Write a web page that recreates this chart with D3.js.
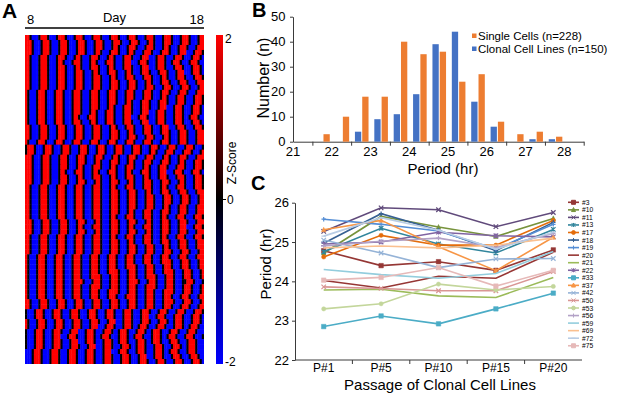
<!DOCTYPE html>
<html>
<head>
<meta charset="utf-8">
<script src="https://cdn.jsdelivr.net/npm/d3@7"></script>
<style>
  body { margin: 0; background: #fff; }
  svg { display: block; font-family: Arial, "Liberation Sans", sans-serif; }
</style>
</head>
<body>
<div id="chart"></div>
<script>
// ---------- panel A data: one string per cell, one letter per time point (day 8..18, every 3 h)
// R = +2, k = 0, B = -2 (spaces only group the letters)
const zLevels = { R: 2, r: 1.2, k: 0, b: -1.2, B: -2 };
const heatRows = [
  "RRkBBBkR RRkBBBkR RRkBBBkR RRkBBBkR RRkBBBkR RRkBBBkR RRkBBBkR RRkBBBkR RRkBBBkR RRkBBBkR R",
  "R RRkBBBkR RRkBBBkR RRkBBBkR RRkBBBkR RRkBBBkR RRkBBBkR RRkBBBkR RkBBBkRR RkBBBkRR RkBBBkRR",
  "R RRkBBBkR RRkBBBkR RRkBBBkR RRkBBBkR RRkBBBkR RkBBBkRR RkBBBkRR RkBBBkRR kBBBkRRR kBBBkRRR",
  "R RRkBBBkR RRkBBBkR RRkBBBkR RRkBBBkR RkBBBkRR RkBBBkRR kBBBkRRR kBBBkRRR kBBBkRRR BBBkRRRk",
  "RRkBBBkR RRkBBBkR RRkBBBkR RkBBBkRR RkBBBkRR kBBBkRRR kBBBkRRR BBBkRRRk BBBkRRRk BBBkRRRk B",
  "RRkBBBkR RRkBBBkR RkBBBkRR RkBBBkRR kBBBkRRR kBBBkRRR BBBkRRRk BBBkRRRk BBkRRRkB BBkRRRkB B",
  "RRkBBBkR RRkBBBkR RRkBBBkR RkBBBkRR RkBBBkRR kBBBkRRR kBBBkRRR BBBkRRRk BBBkRRRk BBBkRRRk B",
  "RRkBBBkR RRkBBBkR RRkBBBkR RRkBBBkR RkBBBkRR RkBBBkRR kBBBkRRR kBBBkRRR kBBBkRRR BBBkRRRk B",
  "RRkBBBkR RRkBBBkR RRkBBBkR RRkBBBkR RRkBBBkR RkBBBkRR RkBBBkRR RkBBBkRR kBBBkRRR kBBBkRRR k",
  "RRkBBBkR RRkBBBkR RRkBBBkR RRkBBBkR RRkBBBkR RRkBBBkR RRkBBBkR RkBBBkRR RkBBBkRR RkBBBkRR R",
  "RRkBBBkR RRkBBBkR RRkBBBkR RRkBBBkR RRkBBBkR RRkBBBkR RRkBBBkR RRkBBBkR RRkBBBkR RRkBBBkR R",

  "RkBBBkRR RkBBBkRR RkBBBkRR RkBBBkRR RkBBBkRR RkBBBkRR RkBBBkRR RkBBBkRR RkBBBkRR RkBBBkRR R",
  "RkBBBkRR RkBBBkRR RkBBBkRR RkBBBkRR RkBBBkRR RkBBBkRR RkBBBkRR RkBBBkRR kBBBkRRR kBBBkRRR k",
  "RkBBBkRR RkBBBkRR RkBBBkRR RkBBBkRR RkBBBkRR RkBBBkRR kBBBkRRR kBBBkRRR kBBBkRRR kBBBkRRR k",
  "RkBBBkRR RkBBBkRR RkBBBkRR RkBBBkRR RkBBBkRR kBBBkRRR kBBBkRRR kBBBkRRR BBBkRRRk BBBkRRRk B",
  "RkBBBkRR RkBBBkRR RkBBBkRR RkBBBkRR kBBBkRRR kBBBkRRR kBBBkRRR BBBkRRRk BBBkRRRk BBBkRRRk B",
  "RkBBBkRR RkBBBkRR RkBBBkRR kBBBkRRR kBBBkRRR kBBBkRRR BBBkRRRk BBBkRRRk BBBkRRRk BBkRRRkB B",
  "RkBBBkRR RkBBBkRR RkBBBkRR RkBBBkRR kBBBkRRR kBBBkRRR kBBBkRRR BBBkRRRk BBBkRRRk BBBkRRRk B",
  "R RkBBBkRR RkBBBkRR RkBBBkRR RkBBBkRR RkBBBkRR kBBBkRRR kBBBkRRR kBBBkRRR BBBkRRRk BBBkRRRk",
  "R RkBBBkRR RkBBBkRR RkBBBkRR RkBBBkRR RkBBBkRR RkBBBkRR kBBBkRRR kBBBkRRR kBBBkRRR kBBBkRRR",
  "R RkBBBkRR RkBBBkRR RkBBBkRR RkBBBkRR RkBBBkRR RkBBBkRR RkBBBkRR RkBBBkRR kBBBkRRR kBBBkRRR",
  "RkBBBkRR RkBBBkRR RkBBBkRR RkBBBkRR RkBBBkRR RkBBBkRR RkBBBkRR RkBBBkRR RkBBBkRR RkBBBkRR R",

  "k RRRkBBBk RRRkBBBk RRRkBBBk RRRkBBBk RRRkBBBk RRRkBBBk RRRkBBBk RRRkBBBk RRRkBBBk RRRkBBBk",
  "k RRRkBBBk RRRkBBBk RRRkBBBk RRRkBBBk RRRkBBBk RRRkBBBk RRRkBBBk RRkBBBkR RRkBBBkR RRkBBBkR",
  "RRRkBBBk RRRkBBBk RRRkBBBk RRRkBBBk RRRkBBBk RRkBBBkR RRkBBBkR RRkBBBkR RkBBBkRR RkBBBkRR R",
  "RRRkBBBk RRRkBBBk RRRkBBBk RRRkBBBk RRkBBBkR RRkBBBkR RkBBBkRR RkBBBkRR RkBBBkRR kBBBkRRR k",
  "RRRkBBBk RRRkBBBk RRRkBBBk RRkBBBkR RRkBBBkR RkBBBkRR RkBBBkRR kBBBkRRR kBBBkRRR kBBBkRRR k",
  "RRRkBBBk RRRkBBBk RRkBBBkR RRkBBBkR RkBBBkRR RkBBBkRR kBBBkRRR kBBBkRRR BBBkRRRk BBBkRRRk B",
  "RRRkBBBk RRRkBBBk RRRkBBBk RRkBBBkR RRkBBBkR RkBBBkRR RkBBBkRR kBBBkRRR kBBBkRRR kBBBkRRR k",
  "RRRkBBBk RRRkBBBk RRRkBBBk RRRkBBBk RRkBBBkR RRkBBBkR RkBBBkRR RkBBBkRR RkBBBkRR kBBBkRRR k",
  "RRkBBBk RRRkBBBk RRRkBBBk RRRkBBBk RRRkBBBk RRkBBBkR RRkBBBkR RRkBBBkR RkBBBkRR RkBBBkRR R k",
  "RRkBBBk RRRkBBBk RRRkBBBk RRRkBBBk RRRkBBBk RRRkBBBk RRRkBBBk RRkBBBkR RRkBBBkR RRkBBBkR R R",
  "RRkBBBk RRRkBBBk RRRkBBBk RRRkBBBk RRRkBBBk RRRkBBBk RRRkBBBk RRRkBBBk RRRkBBBk RRRkBBBk R R",

  "RRkBBBkR RRkBBBkR RRkBBBkR RRkBBBkR RRkBBBkR RRkBBBkR RRkBBBkR RRkBBBkR RRkBBBkR RRkBBBkR R",
  "RRkBBBkR RRkBBBkR RRkBBBkR RRkBBBkR RRkBBBkR RRkBBBkR RRkBBBkR RRkBBBkR RkBBBkRR RkBBBkRR R",
  "RRkBBBkR RRkBBBkR RRkBBBkR RRkBBBkR RRkBBBkR RRkBBBkR RkBBBkRR RkBBBkRR RkBBBkRR RkBBBkRR R",
  "RRkBBBkR RRkBBBkR RRkBBBkR RRkBBBkR RRkBBBkR RkBBBkRR RkBBBkRR RkBBBkRR kBBBkRRR kBBBkRRR k",
  "R RRkBBBkR RRkBBBkR RRkBBBkR RRkBBBkR RkBBBkRR RkBBBkRR RkBBBkRR kBBBkRRR kBBBkRRR kBBBkRRR",
  "R RRkBBBkR RRkBBBkR RRkBBBkR RkBBBkRR RkBBBkRR RkBBBkRR kBBBkRRR kBBBkRRR kBBBkRRR BBBkRRRk",
  "R RRkBBBkR RRkBBBkR RRkBBBkR RRkBBBkR RkBBBkRR RkBBBkRR RkBBBkRR kBBBkRRR kBBBkRRR kBBBkRRR",
  "RRkBBBkR RRkBBBkR RRkBBBkR RRkBBBkR RRkBBBkR RkBBBkRR RkBBBkRR RkBBBkRR kBBBkRRR kBBBkRRR k",
  "RRkBBBkR RRkBBBkR RRkBBBkR RRkBBBkR RRkBBBkR RRkBBBkR RkBBBkRR RkBBBkRR RkBBBkRR RkBBBkRR R",
  "RRkBBBkR RRkBBBkR RRkBBBkR RRkBBBkR RRkBBBkR RRkBBBkR RRkBBBkR RRkBBBkR RkBBBkRR RkBBBkRR R",
  "RRkBBBkR RRkBBBkR RRkBBBkR RRkBBBkR RRkBBBkR RRkBBBkR RRkBBBkR RRkBBBkR RRkBBBkR RRkBBBkR R",

  "RkBBBkRR RkBBBkRR RkBBBkRR RkBBBkRR RkBBBkRR RkBBBkRR RkBBBkRR RkBBBkRR RkBBBkRR RkBBBkRR R",
  "RkBBBkRR RkBBBkRR RkBBBkRR RkBBBkRR RkBBBkRR RkBBBkRR RkBBBkRR RkBBBkRR RRkBBBkR RRkBBBkR R",
  "RkBBBkRR RkBBBkRR RkBBBkRR RkBBBkRR RkBBBkRR RkBBBkRR RRkBBBkR RRkBBBkR RRkBBBkR RRkBBBkR R",
  "RkBBBkRR RkBBBkRR RkBBBkRR RkBBBkRR RkBBBkRR RRkBBBkR RRkBBBkR RRkBBBkR RRRkBBBk RRRkBBBk R",
  "RkBBBkRR RkBBBkRR RkBBBkRR RkBBBkRR RRkBBBkR RRkBBBkR RRkBBBkR RRRkBBBk RRRkBBBk RRRkBBBk R",
  "RkBBBkRR RkBBBkRR RkBBBkRR RRkBBBkR RRkBBBkR RRkBBBkR RRRkBBBk RRRkBBBk RRRkBBBk kRRRkBBB k",
  "RkBBBkRR RkBBBkRR RkBBBkRR RkBBBkRR RRkBBBkR RRkBBBkR RRkBBBkR RRRkBBBk RRRkBBBk RRRkBBBk R",
  "RkBBBkRR RkBBBkRR RkBBBkRR RkBBBkRR RkBBBkRR RRkBBBkR RRkBBBkR RRkBBBkR RRRkBBBk RRRkBBBk R",
  "RkBBBkRR RkBBBkRR RkBBBkRR RkBBBkRR RkBBBkRR RkBBBkRR RRkBBBkR RRkBBBkR RRkBBBkR RRkBBBkR R",
  "R RkBBBkRR RkBBBkRR RkBBBkRR RkBBBkRR RkBBBkRR RkBBBkRR RkBBBkRR RkBBBkRR RRkBBBkR RRkBBBkR",
  "R RkBBBkRR RkBBBkRR RkBBBkRR RkBBBkRR RkBBBkRR RkBBBkRR RkBBBkRR RkBBBkRR RkBBBkRR RkBBBkRR",

  "kBBBkRRR kBBBkRRR kBBBkRRR kBBBkRRR kBBBkRRR kBBBkRRR kBBBkRRR kBBBkRRR kBBBkRRR kBBBkRRR k",
  "kBBBkRRR kBBBkRRR kBBBkRRR kBBBkRRR kBBBkRRR kBBBkRRR kBBBkRRR BBBkRRRk BBBkRRRk BBBkRRRk B",
  "R kBBBkRRR kBBBkRRR kBBBkRRR kBBBkRRR kBBBkRRR BBBkRRRk BBBkRRRk BBBkRRRk BBkRRRkB BBkRRRkB",
  "R kBBBkRRR kBBBkRRR kBBBkRRR kBBBkRRR BBBkRRRk BBBkRRRk BBkRRRkB BBkRRRkB BBkRRRkB BkRRRkBB",
  "kBBBkRRR kBBBkRRR kBBBkRRR BBBkRRRk BBBkRRRk BBkRRRkB BBkRRRkB BkRRRkBB BkRRRkBB BkRRRkBB B",
  "kBBBkRRR kBBBkRRR BBBkRRRk BBBkRRRk BBkRRRkB BBkRRRkB BkRRRkBB BkRRRkBB kRRRkBBB kRRRkBBB k",
  "kBBBkRRR kBBBkRRR kBBBkRRR BBBkRRRk BBBkRRRk BBkRRRkB BBkRRRkB BkRRRkBB BkRRRkBB BkRRRkBB B",
  "kBBBkRRR kBBBkRRR kBBBkRRR kBBBkRRR BBBkRRRk BBBkRRRk BBkRRRkB BBkRRRkB BBkRRRkB BkRRRkBB B",
  "BBBkRRR kBBBkRRR kBBBkRRR kBBBkRRR kBBBkRRR BBBkRRRk BBBkRRRk BBBkRRRk BBkRRRkB BBkRRRkB B B",
  "BBBkRRR kBBBkRRR kBBBkRRR kBBBkRRR kBBBkRRR kBBBkRRR kBBBkRRR BBBkRRRk BBBkRRRk BBBkRRRk B B",
  "BBBkRRR kBBBkRRR kBBBkRRR kBBBkRRR kBBBkRRR kBBBkRRR kBBBkRRR kBBBkRRR kBBBkRRR kBBBkRRR k B"
].map(r => r.replace(/ /g, ""));
const dayLabels = [8, 18];
const zTicks = [2, 0, -2];

// ---------- panel B data
const periodBins = [21.75, 22.25, 22.75, 23.25, 23.75, 24.25, 24.75, 25.25, 25.75, 26.25, 26.75, 27.25, 27.75];
const singleCells = [3, 10, 18, 18, 40, 35, 36, 24, 27, 8, 3, 4, 2];
const clonalLines = [0, 0, 4, 9, 11, 19, 39, 44, 16, 6, 0, 1, 1];
const periodTicks = [21, 22, 23, 24, 25, 26, 27, 28];
const countTicks = [0, 10, 20, 30, 40, 50];
const legendB = ["Single Cells (n=228)", "Clonal Cell Lines (n=150)"];

// ---------- panel C data
const passages = ["P#1", "P#5", "P#10", "P#15", "P#20"];
const cloneIds = ["#3", "#10", "#11", "#13", "#17", "#18", "#19", "#20", "#21", "#22",
                  "#33", "#37", "#42", "#50", "#53", "#56", "#59", "#69", "#72", "#75"];
const cl3  = [24.78, 24.40, 24.50, 24.28, 24.80];
const cl10 = [24.72, 25.65, 25.38, 25.14, 25.60];
const cl11 = [25.27, 25.87, 25.82, 25.39, 25.75];
const cl13 = [24.75, 25.35, 24.95, 24.72, 25.32];
const cl17 = [24.62, 25.17, 24.92, 24.92, 25.55];
const cl18 = [24.97, 25.72, 25.30, 24.78, 25.50];
const cl19 = [25.58, 25.45, 25.28, 24.82, 25.45];
const cl20 = [24.02, 23.83, 24.13, 24.08, 24.74];
const cl21 = [23.78, 23.80, 23.63, 23.59, 24.10];
const cl22 = [24.95, 25.00, 25.25, 25.16, 25.13];
const cl33 = [22.85, 23.12, 22.92, 23.30, 23.70];
const cl37 = [25.31, 25.55, 24.88, 24.27, 25.12];
const cl42 = [25.05, 24.72, 24.35, 24.57, 24.58];
const cl50 = [23.86, 23.82, 23.76, 23.76, 24.25];
const cl53 = [23.30, 23.43, 23.93, 23.78, 23.87];
const cl56 = [24.90, 25.02, 25.10, 24.86, 25.22];
const cl59 = [24.30, 24.17, 24.08, 24.20, 24.76];
const cl69 = [24.85, 24.90, 24.85, 24.92, 25.10];
const cl72 = [25.15, 25.62, 25.30, 24.82, 25.25];
const cl75 = [24.03, 24.10, 24.35, 23.88, 24.28];
const cloneSeries = [cl3, cl10, cl11, cl13, cl17, cl18, cl19, cl20, cl21, cl22,
                     cl33, cl37, cl42, cl50, cl53, cl56, cl59, cl69, cl72, cl75];
const periodTicksC = [22, 23, 24, 25, 26];

// styles for the clone lines (colour, marker)
const cloneColors = ["#953735", "#77933C", "#604A7B", "#31859C", "#E46C0A", "#376092", "#558ED5", "#963634", "#9BBB59", "#8064A2",
                     "#4BACC6", "#F79646", "#95B3D7", "#D99694", "#C3D69B", "#B3A2C7", "#93CDDD", "#FAC090", "#B9CDE5", "#E6B9B8"];
const cloneMarkers = ["square", "triangle", "x", "star", "circle", "plus", "plus", "none", "none", "star",
                      "square", "triangle", "x", "x", "circle", "plus", "none", "none", "dash", "square"];

const W = 617, H = 395;
const axisColor = "#3a3a3a";

const svg = d3.select("#chart").append("svg")
    .attr("width", W)
    .attr("height", H);
svg.append("rect").attr("width", W).attr("height", H).attr("fill", "#fff");

function panelLetter(t, x, y, size) {
  svg.append("text").attr("x", x).attr("y", y)
    .attr("font-size", size).attr("font-weight", "bold").text(t);
}

// ================= A: heatmap =================
panelLetter("A", 2, 18, 21);

const nCols = d3.max(heatRows, r => r.length);
const heatX = d3.scaleBand().domain(d3.range(nCols)).range([25, 204]);
const heatY = d3.scaleBand().domain(d3.range(heatRows.length)).range([35, 364]);
const zColor = d3.scaleLinear().domain([-2, 0, 2]).range(["#0000ff", "#000000", "#ff0000"]).clamp(true);

const gHeat = svg.append("g");
heatRows.forEach(function(row, r) {
  gHeat.selectAll(null)
    .data(row.split(""))
    .enter()
    .append("rect")
      .attr("x", (c, i) => heatX(i))
      .attr("y", heatY(r))
      .attr("width", (c, i) => i === nCols - 1 ? heatX.bandwidth() : heatX.bandwidth() + 0.4)
      .attr("height", r === heatRows.length - 1 ? heatY.bandwidth() : heatY.bandwidth() + 0.4)
      .attr("fill", c => zColor(zLevels[c]));
});

// day bar above the heatmap
const dayX = d3.scaleLinear().domain(d3.extent(dayLabels)).range([25, 204]);
svg.append("line")
  .attr("x1", dayX(dayLabels[0])).attr("x2", dayX(dayLabels[1]))
  .attr("y1", 28).attr("y2", 28)
  .attr("stroke", "#000").attr("stroke-width", 1.6);
svg.append("text").attr("x", dayX(dayLabels[0]) + 2).attr("y", 24)
  .attr("font-size", 13).text(dayLabels[0]);
svg.append("text").attr("x", dayX(dayLabels[1])).attr("y", 24)
  .attr("font-size", 13).attr("text-anchor", "end").text(dayLabels[1]);
svg.append("text").attr("x", dayX((dayLabels[0] + dayLabels[1]) / 2)).attr("y", 22)
  .attr("font-size", 13).attr("text-anchor", "middle").text("Day");

// colour bar
const zY = d3.scaleLinear().domain([-2, 2]).range([364, 35]);
const grad = svg.append("defs").append("linearGradient")
  .attr("id", "zgrad").attr("x1", 0).attr("x2", 0).attr("y1", 0).attr("y2", 1);
zTicks.forEach(function(t) {
  grad.append("stop")
    .attr("offset", (zY(t) - zY(2)) / (zY(-2) - zY(2)))
    .attr("stop-color", zColor(t));
});
svg.append("rect")
  .attr("x", 216).attr("y", zY(2))
  .attr("width", 7).attr("height", zY(-2) - zY(2))
  .attr("fill", "url(#zgrad)");
svg.append("line").attr("x1", 223).attr("x2", 226)
  .attr("y1", zY(0)).attr("y2", zY(0)).attr("stroke", "#000");
svg.selectAll(".zlab")
  .data(zTicks)
  .enter()
  .append("text")
    .attr("x", d => d === 0 ? 227 : 225)
    .attr("y", d => zY(d) + (d === 2 ? 4 : d === -2 ? -2 : 0))
    .attr("dominant-baseline", "central")
    .attr("font-size", 12)
    .text(d => d);
svg.append("text")
  .attr("transform", "translate(236," + 163 + ") rotate(-90)")
  .attr("text-anchor", "middle").attr("font-size", 12).text("Z-Score");

// ================= B: histogram =================
panelLetter("B", 252, 17, 20);

const bx = d3.scaleLinear().domain([21, 28.5]).range([293, 583.7]);
const by = d3.scaleLinear().domain([0, 50]).range([141.7, 16.7]);
const gB = svg.append("g");

gB.append("g")
  .attr("transform", "translate(293,0)")
  .call(d3.axisLeft(by).tickValues(countTicks).tickFormat(d3.format("d")).tickSize(3).tickSizeOuter(0).tickPadding(4.5))
  .call(g => g.selectAll("text").attr("font-size", 13).attr("fill", "#000").attr("font-family", null))
  .call(g => g.selectAll("line,path").attr("stroke", axisColor));

gB.append("g")
  .attr("transform", "translate(0,141.7)")
  .call(d3.axisBottom(bx).tickValues(periodTicks.map(t => t + 0.5)).tickFormat("").tickSize(4).tickSizeOuter(0))
  .call(g => g.selectAll("line,path").attr("stroke", axisColor));

gB.selectAll(".bxlab")
  .data(periodTicks)
  .enter()
  .append("text")
    .attr("x", d => bx(d))
    .attr("y", 156)
    .attr("text-anchor", "middle")
    .attr("font-size", 13)
    .text(d => d);

const barW = 6.3;
gB.selectAll(".bar-clonal")
  .data(clonalLines)
  .enter()
  .append("rect")
    .attr("x", (d, i) => bx(periodBins[i]) + 0.9 - barW - 0.5)
    .attr("y", d => by(d))
    .attr("width", barW)
    .attr("height", d => by(0) - by(d))
    .attr("fill", "#4472C4");
gB.selectAll(".bar-single")
  .data(singleCells)
  .enter()
  .append("rect")
    .attr("x", (d, i) => bx(periodBins[i]) + 0.9 + 0.5)
    .attr("y", d => by(d))
    .attr("width", barW)
    .attr("height", d => by(0) - by(d))
    .attr("fill", "#ED7D31");

gB.append("text")
  .attr("transform", "translate(269,78) rotate(-90)")
  .attr("text-anchor", "middle").attr("font-size", 16).text("Number (n)");
gB.append("text").attr("x", 443).attr("y", 174)
  .attr("text-anchor", "middle").attr("font-size", 15).text("Period (hr)");

const legB = gB.selectAll(".legb")
  .data(legendB)
  .enter()
  .append("g")
    .attr("transform", (d, i) => "translate(472," + (35.5 + i * 13) + ")");
legB.append("rect").attr("x", 0).attr("y", -2).attr("width", 4.5).attr("height", 4.5)
  .attr("fill", (d, i) => i === 0 ? "#ED7D31" : "#4472C4");
legB.append("text").attr("x", 6).attr("y", 0).attr("dominant-baseline", "central")
  .attr("font-size", 11.5).text(d => d);

// ================= C: period over passages =================
panelLetter("C", 251, 190, 20);

const cx = d3.scaleBand().domain(passages).range([295, 582]);
const cy = d3.scaleLinear().domain([22, 26]).range([360, 202.7]);
const gC = svg.append("g");

gC.append("g")
  .attr("transform", "translate(295,0)")
  .call(d3.axisLeft(cy).tickValues(periodTicksC).tickFormat(d3.format("d")).tickSize(3).tickSizeOuter(0).tickPadding(3))
  .call(g => g.selectAll("text").attr("font-size", 13).attr("fill", "#000").attr("font-family", null))
  .call(g => g.selectAll("line,path").attr("stroke", axisColor));

gC.append("line").attr("x1", 295).attr("x2", 582).attr("y1", 360).attr("y2", 360)
  .attr("stroke", axisColor);
gC.selectAll(".cxtick")
  .data(passages.slice(1))
  .enter()
  .append("line")
    .attr("x1", d => cx(d)).attr("x2", d => cx(d))
    .attr("y1", 360).attr("y2", 364)
    .attr("stroke", axisColor);
gC.selectAll(".cxlab")
  .data(passages)
  .enter()
  .append("text")
    .attr("x", d => cx(d) + cx.bandwidth() / 2)
    .attr("y", 371.5)
    .attr("text-anchor", "middle")
    .attr("font-size", 12)
    .text(d => d);

gC.append("text")
  .attr("transform", "translate(271,264) rotate(-90)")
  .attr("text-anchor", "middle").attr("font-size", 15).text("Period (hr)");
gC.append("text").attr("x", 440).attr("y", 389.5)
  .attr("text-anchor", "middle").attr("font-size", 15).text("Passage of Clonal Cell Lines");

function markerPath(type, s) {
  const h = s / 2;
  if (type === "square") return "M" + (-h) + "," + (-h) + "h" + s + "v" + s + "h" + (-s) + "z";
  if (type === "triangle") return "M0," + (-h * 1.15) + "L" + h + "," + (h * 0.85) + "L" + (-h) + "," + (h * 0.85) + "z";
  if (type === "circle") return d3.symbol(d3.symbolCircle, s * s * 0.7)();
  if (type === "x") return "M" + (-h) + "," + (-h) + "L" + h + "," + h + "M" + (-h) + "," + h + "L" + h + "," + (-h);
  if (type === "plus") return "M" + (-h) + ",0H" + h + "M0," + (-h) + "V" + h;
  if (type === "star") return "M" + (-h) + "," + (-h) + "L" + h + "," + h + "M" + (-h) + "," + h + "L" + h + "," + (-h) + "M0," + (-h) + "V" + h;
  if (type === "dash") return "M" + (-h) + ",0H" + h;
  return "";
}
const filledMarkers = ["square", "triangle", "circle"];

const line = d3.line()
  .x((d, i) => cx(passages[i]) + cx.bandwidth() / 2)
  .y(d => cy(d));

cloneSeries.forEach(function(values, k) {
  const col = cloneColors[k];
  const mk = cloneMarkers[k];
  gC.append("path")
    .datum(values)
    .attr("d", line)
    .attr("fill", "none")
    .attr("stroke", col)
    .attr("stroke-width", 1.6);
  if (mk !== "none") {
    gC.selectAll(null)
      .data(values)
      .enter()
      .append("path")
        .attr("transform", (d, i) => "translate(" + (cx(passages[i]) + cx.bandwidth() / 2) + "," + cy(d) + ")")
        .attr("d", markerPath(mk, 4.5))
        .attr("fill", filledMarkers.includes(mk) ? col : "none")
        .attr("stroke", col)
        .attr("stroke-width", filledMarkers.includes(mk) ? 0.5 : 1.2);
  }
});

// legend for clones
const legC = gC.selectAll(".legc")
  .data(cloneIds)
  .enter()
  .append("g")
    .attr("transform", (d, i) => "translate(568," + (202.3 + i * 7.55) + ")");
legC.append("line").attr("x1", 0).attr("x2", 11).attr("y1", 0).attr("y2", 0)
  .attr("stroke", (d, i) => cloneColors[i]).attr("stroke-width", 1.6);
legC.append("path")
  .attr("transform", "translate(5.5,0)")
  .attr("d", (d, i) => markerPath(cloneMarkers[i], 4))
  .attr("fill", (d, i) => filledMarkers.includes(cloneMarkers[i]) ? cloneColors[i] : "none")
  .attr("stroke", (d, i) => cloneColors[i])
  .attr("stroke-width", 1);
legC.append("text").attr("x", 14).attr("y", 0).attr("dominant-baseline", "central")
  .attr("font-size", 6.7).text(d => d);
</script>
</body>
</html>
